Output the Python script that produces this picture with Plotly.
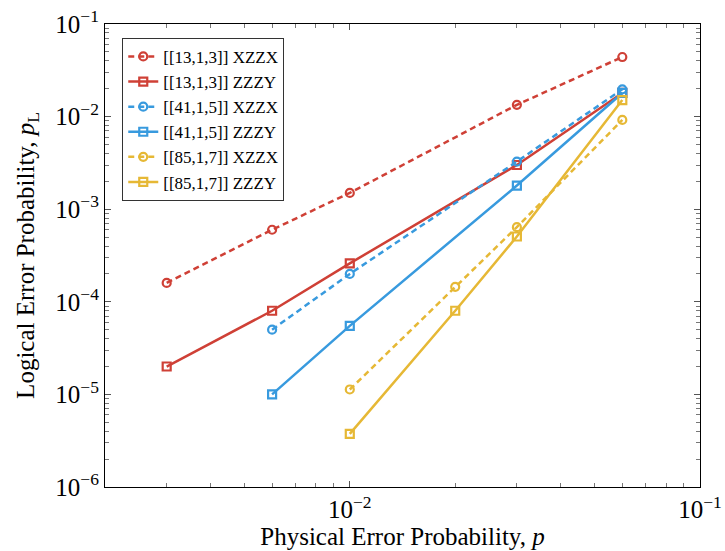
import plotly.graph_objects as go

# Physical error rates p
p_13 = [0.003, 0.006, 0.01, 0.03, 0.06]
p_41 = [0.006, 0.01, 0.03, 0.06]
p_85 = [0.01, 0.02, 0.03, 0.06]

# Logical error rates p_L
pl_13_xzzx = [1.6e-4, 6.0e-4, 1.5e-3, 1.34e-2, 4.4e-2]
pl_13_zzzy = [2.0e-5, 8.0e-5, 2.6e-4, 3.0e-3, 1.8e-2]
pl_41_xzzx = [5.0e-5, 2.0e-4, 3.27e-3, 1.97e-2]
pl_41_zzzy = [1.0e-5, 5.5e-5, 1.8e-3, 1.8e-2]
pl_85_xzzx = [1.13e-5, 1.45e-4, 6.4e-4, 9.2e-3]
pl_85_zzzy = [3.75e-6, 8.0e-5, 5.07e-4, 1.51e-2]

labels = ["[[13,1,3]] XZZX", "[[13,1,3]] ZZZY",
          "[[41,1,5]] XZZX", "[[41,1,5]] ZZZY",
          "[[85,1,7]] XZZX", "[[85,1,7]] ZZZY"]

RED = "#cf4036"
BLUE = "#389ade"
YELLOW = "#e6b835"

x_tickvals = [1e-2, 1e-1]
x_ticktext = ["10<sup>−2</sup>", "10<sup>−1</sup>"]
y_tickvals = [1e-6, 1e-5, 1e-4, 1e-3, 1e-2, 1e-1]
y_ticktext = ["10<sup>−6</sup>", "10<sup>−5</sup>", "10<sup>−4</sup>",
              "10<sup>−3</sup>", "10<sup>−2</sup>", "10<sup>−1</sup>"]

series = [
    (p_13, pl_13_xzzx, labels[0], RED, "6px,4px", "circle-open"),
    (p_13, pl_13_zzzy, labels[1], RED, "solid", "square-open"),
    (p_41, pl_41_xzzx, labels[2], BLUE, "6px,4px", "circle-open"),
    (p_41, pl_41_zzzy, labels[3], BLUE, "solid", "square-open"),
    (p_85, pl_85_xzzx, labels[4], YELLOW, "6px,4px", "circle-open"),
    (p_85, pl_85_zzzy, labels[5], YELLOW, "solid", "square-open"),
]

fig = go.Figure()
for xs, ys, name, color, dash, sym in series:
    fig.add_trace(go.Scatter(
        x=xs, y=ys, name=name, mode="lines+markers",
        line=dict(color=color, width=2.5, dash=dash),
        marker=dict(symbol=sym, size=8, color=color, line=dict(width=2.2, color=color)),
    ))

minor_x = [m * 10.0 ** e for e in (-3, -2) for m in range(2, 10)]
minor_y = [m * 10.0 ** e for e in (-6, -5, -4, -3, -2) for m in range(2, 10)]

SERIF = "Liberation Serif"

axis_common = dict(
    type="log", showgrid=False, zeroline=False, automargin=False,
    showline=True, linecolor="black", linewidth=1.2, mirror="allticks",
    ticks="inside", ticklen=6, tickwidth=1, tickcolor="#555555",
    tickfont=dict(family=SERIF, size=25, color="black"),
)

fig.update_xaxes(
    **axis_common,
    range=[-2.699, -1],
    tickmode="array", tickvals=x_tickvals, ticktext=x_ticktext,
    minor=dict(tickmode="array", tickvals=minor_x, ticks="inside", ticklen=4,
               tickcolor="#777777", showgrid=False),
    title=dict(text="Physical Error Probability, <i>p</i>",
               font=dict(family=SERIF, size=25, color="black"),
               standoff=4),
)
fig.update_yaxes(
    **axis_common,
    range=[-6, -1],
    tickmode="array", tickvals=y_tickvals, ticktext=y_ticktext,
    minor=dict(tickmode="array", tickvals=minor_y, ticks="inside", ticklen=4,
               tickcolor="#777777", showgrid=False),
    title=dict(text="Logical Error Probability, <i>p</i><sub>L</sub>",
               font=dict(family=SERIF, size=25, color="black"),
               standoff=13),
)

fig.update_layout(
    width=725, height=551,
    margin=dict(l=105, r=25, t=24, b=64),
    paper_bgcolor="white", plot_bgcolor="white",
    showlegend=True,
    legend=dict(
        x=0.029, y=0.97, xanchor="left", yanchor="top",
        bordercolor="#333333", borderwidth=1, bgcolor="white",
        font=dict(family=SERIF, size=17, color="black"),
        tracegroupgap=0, itemwidth=30,
    ),
)

fig.write_html("out.html")
